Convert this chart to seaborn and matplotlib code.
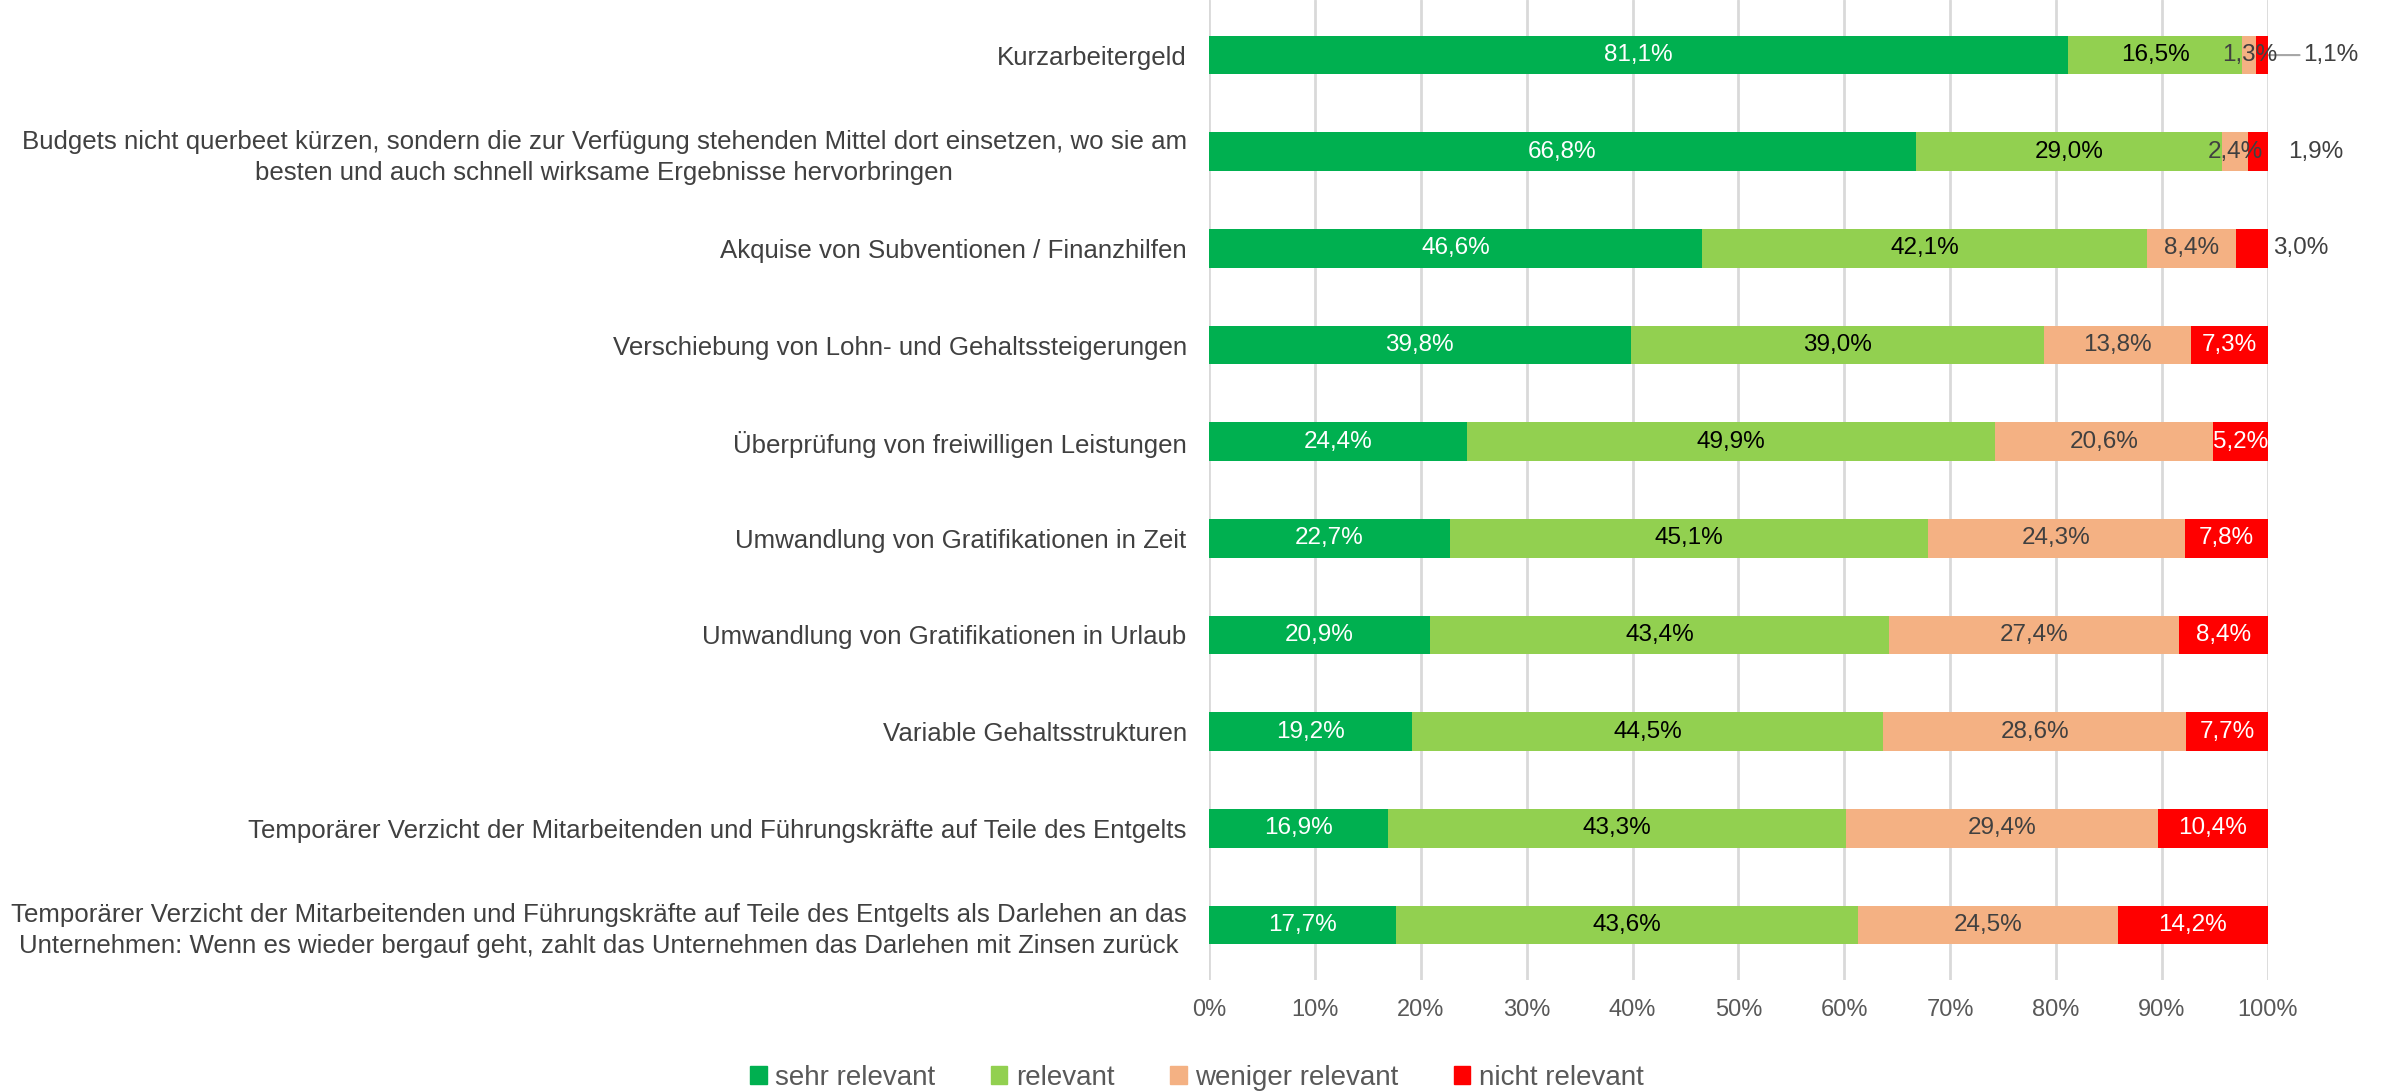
import matplotlib
matplotlib.use("Agg")
import matplotlib.pyplot as plt
import matplotlib.patches as mpatches
import seaborn as sns
import numpy as np
import pandas as pd

# Daten (von oben nach unten)
kategorien = [
    "Kurzarbeitergeld",
    "Budgets nicht querbeet kürzen, sondern die zur Verfügung stehenden Mittel dort einsetzen, wo sie am\n"
    "besten und auch schnell wirksame Ergebnisse hervorbringen",
    "Akquise von Subventionen / Finanzhilfen",
    "Verschiebung von Lohn- und Gehaltssteigerungen",
    "Überprüfung von freiwilligen Leistungen",
    "Umwandlung von Gratifikationen in Zeit",
    "Umwandlung von Gratifikationen in Urlaub",
    "Variable Gehaltsstrukturen",
    "Temporärer Verzicht der Mitarbeitenden und Führungskräfte auf Teile des Entgelts",
    "Temporärer Verzicht der Mitarbeitenden und Führungskräfte auf Teile des Entgelts als Darlehen an das\n"
    "Unternehmen: Wenn es wieder bergauf geht, zahlt das Unternehmen das Darlehen mit Zinsen zurück",
]
sehr_relevant = [81.1, 66.8, 46.6, 39.8, 24.4, 22.7, 20.9, 19.2, 16.9, 17.7]
relevant = [16.5, 29.0, 42.1, 39.0, 49.9, 45.1, 43.4, 44.5, 43.3, 43.6]
weniger_relevant = [1.3, 2.4, 8.4, 13.8, 20.6, 24.3, 27.4, 28.6, 29.4, 24.5]
nicht_relevant = [1.1, 1.9, 3.0, 7.3, 5.2, 7.8, 8.4, 7.7, 10.4, 14.2]

serien = ["sehr relevant", "relevant", "weniger relevant", "nicht relevant"]
farben = ["#00B050", "#92D050", "#F4B183", "#FF0000"]
textfarben = ["white", "black", "#404040", "white"]

sns.set_theme(style="white")
plt.rcParams["font.family"] = ["Liberation Sans", "DejaVu Sans"]

werte = np.array([sehr_relevant, relevant, weniger_relevant, nicht_relevant]).T
anteile = werte / werte.sum(axis=1, keepdims=True) * 100
kumuliert = np.cumsum(anteile, axis=1)

df = pd.DataFrame(kumuliert, columns=serien)
df["kategorie"] = kategorien

fig = plt.figure(figsize=(23.84, 10.92), dpi=100)
ax = fig.add_axes([0.5071, 0.1026, 0.4442, 0.8974])

# gestapelte Balken: kumulierte Summen übereinander zeichnen
for s, c in zip(serien[::-1], farben[::-1]):
    sns.barplot(data=df, y="kategorie", x=s, order=kategorien, orient="h",
                color=c, saturation=1, width=0.4, linewidth=0, ax=ax, zorder=3)

# Beschriftungen
fs = 17.5
for i in range(len(kategorien)):
    links = 0
    for j in range(4):
        w = anteile[i, j]
        txt = f"{werte[i, j]:.1f}".replace(".", ",") + "%"
        if j == 3 and werte[i, j] < 4:
            if i == 0:
                ax.annotate(txt, xy=(100.1, i), xytext=(103.3, i), va="center", ha="left",
                            fontsize=fs, color="#404040", annotation_clip=False,
                            arrowprops=dict(arrowstyle="-", color="#A6A6A6", lw=1.5,
                                            shrinkA=0, shrinkB=0))
            else:
                ax.text(100.5 if werte[i, j] >= 2.5 else 101.9, i, txt, va="center",
                        ha="left", fontsize=fs, color="#404040")
        else:
            ax.text(links + w / 2, i, txt, va="center", ha="center",
                    fontsize=fs, color=textfarben[j], zorder=5)
        links += w

ax.set_xlim(0, 100)
ax.set_ylim(9.57, -0.57)
ax.set_xticks(np.arange(0, 101, 10))
ax.set_xticklabels([f"{t}%" for t in range(0, 101, 10)], fontsize=17, color="#595959")
ax.set_yticks(range(len(kategorien)))
ax.set_yticklabels(kategorien, fontsize=18.6, color="#404040", multialignment="center",
                   linespacing=1.35)
ax.tick_params(axis="y", length=0, pad=16)
ax.tick_params(axis="x", length=0, pad=14)
ax.set_xlabel("")
ax.set_ylabel("")
ax.grid(axis="x", color="#D9D9D9", linewidth=2, zorder=0)
ax.set_axisbelow(True)
for sp in ax.spines.values():
    sp.set_visible(False)

handles = [mpatches.Patch(color=c, label=s) for s, c in zip(serien, farben)]
fig.legend(handles=handles, loc="center", bbox_to_anchor=(0.502, 0.013), ncol=4,
           frameon=False, fontsize=20, labelcolor="#595959", handlelength=0.6,
           handleheight=0.6, handletextpad=0.3, columnspacing=2.0)

# Seitenzahl (unten abgeschnitten)
fig.text(0.986, -0.035, "27", fontsize=34, color="black", ha="center", va="center")

fig.savefig("out.png", dpi=100)
